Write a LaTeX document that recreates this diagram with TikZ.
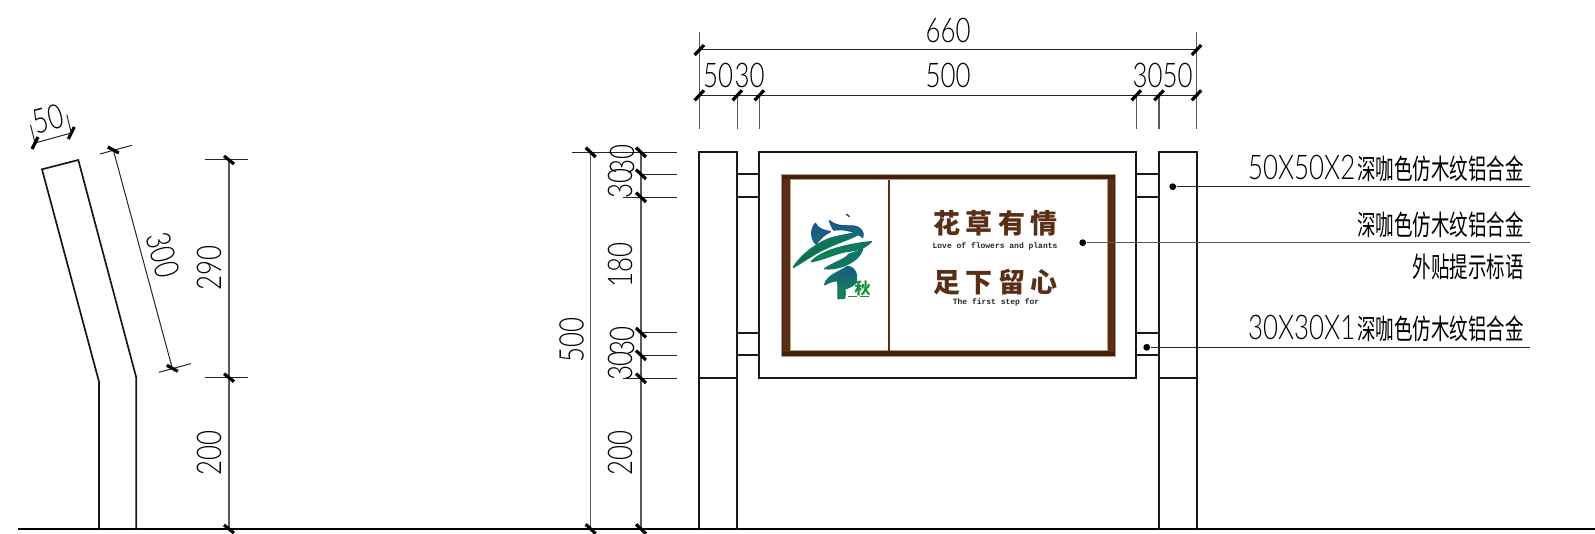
\documentclass[tikz,border=0pt]{standalone}
\usepackage{fontspec}
\setmainfont{Lato Light}
\newfontfamily\cjk{Noto Sans CJK SC}
\newfontfamily\monobold{Liberation Mono}[BoldFont={Liberation Mono Bold}]
\newcommand{\narrow}[1]{\scalebox{.76}[1]{#1}}
\newcommand{\cjknarrow}[1]{\scalebox{.66}[1]{{\cjk\fontsize{14}{14}\selectfont #1}}}
\definecolor{signbrown}{HTML}{43200E}
\definecolor{signwood}{HTML}{5A2E16}
\definecolor{signtan}{HTML}{B5A184}
\definecolor{logoblue}{HTML}{1A5690}
\definecolor{logoteal}{HTML}{0F7468}
\definecolor{logogreen}{HTML}{10903C}
\tikzset{
	outline/.style={draw=black!90, line width=.85pt},
	dimline/.style={draw=black!65, line width=.6pt},
	extline/.style={draw=black!85, line width=.5pt},
	dimtick/.style={draw=black, line width=1.6pt},
	dimlabel/.style={inner sep=0pt, font=\fontsize{17}{17}\selectfont},
	notelabel/.style={inner sep=0pt, font=\fontsize{17}{17}\selectfont, anchor=east},
	signtitle/.style={inner sep=0pt, text=signwood, font=\cjk\bfseries\fontsize{13.5}{14}\selectfont},
	signsmall/.style={inner sep=0pt, text=black!85, font=\monobold\bfseries\fontsize{4}{4}\selectfont},
	leaderdot/.style={shape=circle, fill=black, inner sep=0pt, minimum size=3.4pt},
	logostroke/.style={draw=#1, line width=.7pt, line join=round},
}
\begin{document}
\begin{tikzpicture}[x=.5pt, y=-.5pt]
	\useasboundingbox (0,0) rectangle (1595,534);
	%Ground:
	\draw[draw=black, line width=1pt] (18,529) -- (1595,529);
	%Side view post:
	\draw[outline, line join=miter] (99,529) -- (99,381.7) -- (42,169.3) -- (78.3,160) -- (136.3,377.7) -- (136.3,529);
	%Side view dimensions:
	\path
		(229,160) coordinate (sideTop)
		(229,377.7) coordinate (sideBend)
		(229,529) coordinate (sideBase)
		(35,143) coordinate (widthA)
		(71.3,133) coordinate (widthB)
		(113.3,150) coordinate (slantA)
		(172.3,368.3) coordinate (slantB);
	\draw[dimline] (sideTop) -- (sideBend) -- (sideBase);
	\draw[extline] (widthA) -- (widthB);
	\draw[extline] (slantA) -- (slantB);
	\foreach \c in {sideTop, sideBend}
		\draw[extline] (\c) ++(-24,0) -- ++(43,0);
	\foreach \c in {widthA, widthB}
		\draw[extline] (\c) ++(-4.5,-18.3) -- ++(4.5,18.3);
	\foreach \c in {slantA, slantB}
		\draw[extline] (\c) ++(-13.3,4) -- ++(32,-8.7);
	\foreach \c in {sideTop, sideBend, sideBase}
		\draw[dimtick] (\c) ++(-5,-4) -- ++(10,8);
	\foreach \c in {widthA, widthB}
		\draw[dimtick] (\c) ++(-3,6) -- ++(6,-12);
	\foreach \c in {slantA, slantB}
		\draw[dimtick] (\c) ++(-5.5,-3) -- ++(11,6);
	\path
		(48.3,119.3) node[dimlabel, rotate=15] (lblWidth) {\narrow{50}}
		(163,255) node[dimlabel, rotate=-75] (lblSlant) {\narrow{300}}
		(209,268) node[dimlabel, rotate=90] (lblUpper) {\narrow{290}}
		(209,453) node[dimlabel, rotate=90] (lblLower) {\narrow{200}};
	%Front view posts and panel:
	\draw[outline] (699.3,529) -- (699.3,152.3) -- (737.3,152.3) -- (737.3,529);
	\draw[outline] (1159.3,529) -- (1159.3,152.3) -- (1196.7,152.3) -- (1196.7,529);
	\draw[outline] (699.3,378.3) -- (737.3,378.3);
	\draw[outline] (1159.3,378.3) -- (1196.7,378.3);
	\draw[outline] (759.3,152.3) rectangle (1136,378.3);
	\foreach \y in {174.3, 197.3, 332.7, 355.3} {
		\draw[outline] (737.3,\y) -- (759.3,\y);
		\draw[outline] (1136,\y) -- (1159.3,\y);
	}
	%Sign frame:
	\fill[signbrown, draw=signtan, line width=.5pt] (781.7,175) rectangle (1115,356);
	\fill[signwood] (783,179) rectangle (790,352);
	\fill[signwood] (1107.7,179) rectangle (1113.5,352);
	\fill[white, draw=signtan, line width=.3pt] (790,179.7) rectangle (1107.7,350.7);
	\draw[draw=signwood, line width=.85pt] (889,179.7) -- (889,350.7);
	%Sign logo:
	\begin{scope}[shift={(792,210)}, x=.1667pt, y=-.1667pt]
		\shadedraw[logostroke=logoblue, top color=logoblue, bottom color=logoteal]
			(70,40) .. controls (55,60) and (55,85) .. (72,102)
			.. controls (85,85) and (95,75) .. (115,65)
			.. controls (95,62) and (75,55) .. (70,40) -- cycle;
		\shadedraw[logostroke=logoblue, top color=logoblue, bottom color=logoteal]
			(112,32) .. controls (118,42) and (118,52) .. (125,60)
			.. controls (160,55) and (190,65) .. (212,82)
			.. controls (218,68) and (205,50) .. (185,48)
			.. controls (165,47) and (135,52) .. (112,32) -- cycle;
		\shadedraw[logostroke=logoteal, top color=logoteal, bottom color=logogreen!80!black]
			(4,172) .. controls (30,130) and (85,92) .. (125,82)
			.. controls (155,75) and (185,68) .. (205,70)
			.. controls (175,88) and (135,98) .. (100,116)
			.. controls (65,132) and (35,155) .. (4,172) -- cycle;
		\shadedraw[logostroke=logoteal, top color=logoteal, bottom color=logogreen]
			(58,155) .. controls (90,120) and (170,102) .. (238,95)
			.. controls (215,118) and (190,122) .. (165,124)
			.. controls (130,130) and (90,150) .. (58,155) -- cycle;
		\filldraw[logostroke=logoteal, fill=logoteal]
			(98,176) .. controls (125,158) and (160,148) .. (172,132)
			.. controls (190,128) and (205,120) .. (212,116)
			.. controls (205,142) and (180,158) .. (155,168)
			.. controls (135,175) and (115,178) .. (98,176) -- cycle;
		\shadedraw[logostroke=logoteal, top color=logoblue, bottom color=logogreen]
			(98,224) .. controls (105,195) and (145,185) .. (165,170)
			.. controls (188,168) and (198,195) .. (192,218)
			.. controls (182,228) and (168,234) .. (158,237)
			.. controls (158,247) and (162,255) .. (158,264)
			-- (138,266) .. controls (138,245) and (140,228) .. (136,212)
			.. controls (125,212) and (110,217) .. (98,224) -- cycle;
		\draw[logoblue!70!black, line width=.7pt] (163,12) -- (172,20);
		\draw[logogreen, line width=.35pt] (168,258) -- (195,258) (205,258) -- (232,258);
		\node[inner sep=0pt, text=logogreen, font=\cjk\bfseries\fontsize{8}{8}\selectfont] (logoMark) at (212,236) {秋};
	\end{scope}
	%Sign text:
	\path
		(995.5,223) node[signtitle] (titleOne) {花\hspace{2.8pt}草\hspace{2.8pt}有\hspace{2.8pt}情}
		(995,246) node[signsmall] (subOne) {Love of flowers and plants}
		(995.5,281.7) node[signtitle] (titleTwo) {足\hspace{2.8pt}下\hspace{2.8pt}留\hspace{2.8pt}心}
		(996,302) node[signsmall] (subTwo) {The first step for};
	%Front view dimensions, top:
	\path
		(699.3,50) coordinate (topA)
		(1196.5,50) coordinate (topB)
		(699.3,95.3) coordinate (midA)
		(737.3,95.3) coordinate (midB)
		(759.3,95.3) coordinate (midC)
		(1136.3,95.3) coordinate (midD)
		(1159,95.3) coordinate (midE)
		(1196.5,95.3) coordinate (midF);
	\draw[extline] (topA) -- (topB);
	\draw[extline] (midA) -- (midF);
	\foreach \c in {topA, topB}
		\draw[dimline] (\c) ++(0,-18.3) -- ++(0,97.6);
	\foreach \c in {midB, midC, midD, midE}
		\draw[dimline] (\c) -- ++(0,34);
	\foreach \c in {topA, topB, midA, midB, midC, midD, midE, midF}
		\draw[dimtick] (\c) ++(-4.7,5) -- ++(9.4,-10);
	\path
		(948,30) node[dimlabel] (lblTotal) {\narrow{660}}
		(718,75) node[dimlabel] (lblPostL) {\narrow{50}}
		(749.7,75) node[dimlabel] (lblGapL) {\narrow{30}}
		(948,75) node[dimlabel] (lblPanel) {\narrow{500}}
		(1147.5,75) node[dimlabel] (lblGapR) {\narrow{30}}
		(1177.5,75) node[dimlabel] (lblPostR) {\narrow{50}};
	%Front view dimensions, left:
	\path
		(590.7,152.3) coordinate (fullTop)
		(590.7,529) coordinate (fullBase)
		(641,152.3) coordinate (stepA)
		(641,174.3) coordinate (stepB)
		(641,197.3) coordinate (stepC)
		(641,332.7) coordinate (stepD)
		(641,355.3) coordinate (stepE)
		(641,378.3) coordinate (stepF)
		(641,529) coordinate (stepG);
	\draw[dimline] (fullTop) -- (fullBase);
	\draw[dimline] (stepA) -- (stepG);
	\draw[extline] (fullTop) ++(-18.7,0) -- (677.3,152.3);
	\foreach \c in {stepB, stepD, stepE}
		\draw[extline] (\c) -- ++(36.3,0);
	\foreach \c in {stepC, stepF}
		\draw[extline] (\c) ++(-18,0) -- ++(54.3,0);
	\foreach \c in {fullTop, fullBase, stepA, stepB, stepC, stepD, stepE, stepF, stepG}
		\draw[dimtick] (\c) ++(-5,-4.7) -- ++(10,9.4);
	\path
		(571.7,340) node[dimlabel, rotate=90] (lblHeight) {\narrow{500}}
		(622,160) node[dimlabel, rotate=90] (lblRailA) {\narrow{30}}
		(620,184) node[dimlabel, rotate=90] (lblRailB) {\narrow{30}}
		(620,265) node[dimlabel, rotate=90] (lblMiddle) {\narrow{180}}
		(622,341) node[dimlabel, rotate=90] (lblRailC) {\narrow{30}}
		(620,366) node[dimlabel, rotate=90] (lblRailD) {\narrow{30}}
		(620,453) node[dimlabel, rotate=90] (lblLeg) {\narrow{200}};
	%Leaders and notes:
	\path
		(1172.7,186.7) node[leaderdot] (dotPost) {}
		(1082.7,242.7) node[leaderdot] (dotSign) {}
		(1146.7,347.3) node[leaderdot] (dotRail) {}
		(1530,186.7) coordinate (endPost)
		(1530,242.7) coordinate (endSign)
		(1530,347.3) coordinate (endRail);
	\draw[extline] (dotPost) -- (endPost);
	\draw[dimline] (dotSign) -- (endSign);
	\draw[extline] (dotRail) -- (endRail);
	\path
		(1524,168.3) node[notelabel] (notePost) {\narrow{50X50X2}\hspace{1pt}\cjknarrow{深咖色仿木纹铝合金}}
		(1524,225) node[notelabel] (noteSign) {\cjknarrow{深咖色仿木纹铝合金}}
		(1524,267.3) node[notelabel] (noteSlogan) {\cjknarrow{外贴提示标语}}
		(1524,328) node[notelabel] (noteRail) {\narrow{30X30X1}\hspace{1pt}\cjknarrow{深咖色仿木纹铝合金}};
\end{tikzpicture}
\end{document}
